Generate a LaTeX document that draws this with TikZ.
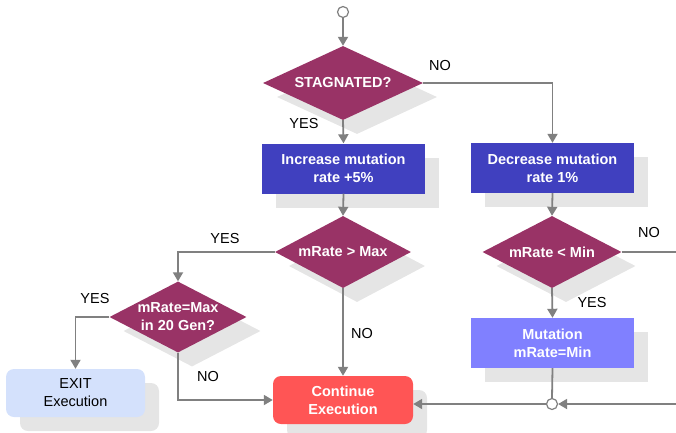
\documentclass[tikz,border=0pt]{standalone}
\usepackage{fontspec}
\setmainfont{Liberation Sans}
\usetikzlibrary{shapes.geometric,arrows.meta,shadows}
\definecolor{decision}{HTML}{993366}
\definecolor{action}{HTML}{4040BF}
\definecolor{setmin}{HTML}{8080FF}
\definecolor{goon}{HTML}{FF5555}
\definecolor{quit}{HTML}{D4E1FC}
\definecolor{wire}{HTML}{808080}
\definecolor{shade}{HTML}{E5E5E5}
\tikzset{
  boxshadow/.style={drop shadow={shadow xshift=14pt,shadow yshift=-14pt,fill=shade,opacity=1}},
  decide/.style={diamond,fill=decision,text=white,font=\bfseries\fontsize{14.5}{18}\selectfont,
    inner sep=-8pt,aspect=1.9,align=center,boxshadow},
  actbox/.style={rectangle,fill=action,text=white,font=\bfseries\fontsize{14.5}{18}\selectfont,
    inner sep=0pt,align=center,minimum width=163pt,minimum height=50pt,boxshadow},
  endbox/.style={rectangle,rounded corners=8pt,inner sep=0pt,align=center,
    font=\fontsize{14.5}{18}\selectfont,minimum width=140pt,minimum height=48pt,boxshadow},
  joint/.style={circle,draw=wire,fill=white,line width=1.2pt,minimum size=11pt,inner sep=0pt},
  flow/.style={draw=wire,line width=1.8pt,-{Triangle[length=9pt,width=10pt]}},
  plain/.style={draw=wire,line width=1.8pt},
  tag/.style={font=\fontsize{14.5}{18}\selectfont,inner sep=0pt}
}
\begin{document}
\begin{tikzpicture}[x=1pt,y=-1pt]
\useasboundingbox (0,0) rectangle (676,432);

% decisions
\node[decide,aspect=2.16,minimum width=160pt,minimum height=74pt] (stag) at (343,83) {STAGNATED?};
\node[decide,minimum width=136pt,minimum height=72pt] (gtmax) at (343,252) {mRate > Max};
\node[decide,minimum width=139pt,minimum height=72pt] (ltmin) at (552,252) {mRate < Min};
\node[decide,minimum width=137pt,minimum height=71pt] (atmax) at (178,317) {mRate=Max\\in 20 Gen?};

% actions
\node[actbox] (inc) at (343.5,168.5) {Increase mutation\\rate +5\%};
\node[actbox] (dec) at (552.5,168) {Decrease mutation\\rate 1\%};
\node[actbox,fill=setmin] (setmin) at (552.5,343) {Mutation\\mRate=Min};

% terminals
\node[endbox,fill=goon,text=white,font=\bfseries\fontsize{14.5}{18}\selectfont] (cont) at (343,400) {Continue\\Execution};
\node[endbox,fill=quit,minimum width=139pt] (exit) at (75.5,393) {EXIT\\Execution};

% junctions
\node[joint] (start) at (343,12) {};
\node[joint] (merge) at (552,404) {};
\coordinate (outR) at (676,252);
\coordinate (inR) at (676,404);

% connectors
\draw[flow] (start) -- (stag.north);
\draw[flow] (stag.south) -- (inc.north);
\draw[flow] (stag.east) -- (stag.east -| dec.north) -- (dec.north);
\draw[flow] (inc.south) -- (gtmax.north);
\draw[flow] (dec.south) -- (ltmin.north);
\draw[flow] (gtmax.west) -- (gtmax.west -| atmax.north) -- (atmax.north);
\draw[flow] (gtmax.south) -- (cont.north);
\draw[flow] (ltmin.south) -- (setmin.north);
\draw[plain] (ltmin.east) -- (outR);
\draw[plain] (setmin.south) -- (merge.north);
\draw[flow] (inR) -- (merge.east);
\draw[flow] (merge.west) -- (merge.west -| cont.east);
\draw[flow] (atmax.west) -- (atmax.west -| exit.north) -- (exit.north);
\draw[flow] (atmax.south) -- (atmax.south |- cont.west) -- (cont.west);

% branch labels
\node[tag] at (440,66) {NO};
\node[tag] at (304,124) {YES};
\node[tag] at (225,238) {YES};
\node[tag] at (362,333) {NO};
\node[tag] at (649,233) {NO};
\node[tag] at (592,302) {YES};
\node[tag] at (95,298) {YES};
\node[tag] at (208,376) {NO};
\end{tikzpicture}
\end{document}
